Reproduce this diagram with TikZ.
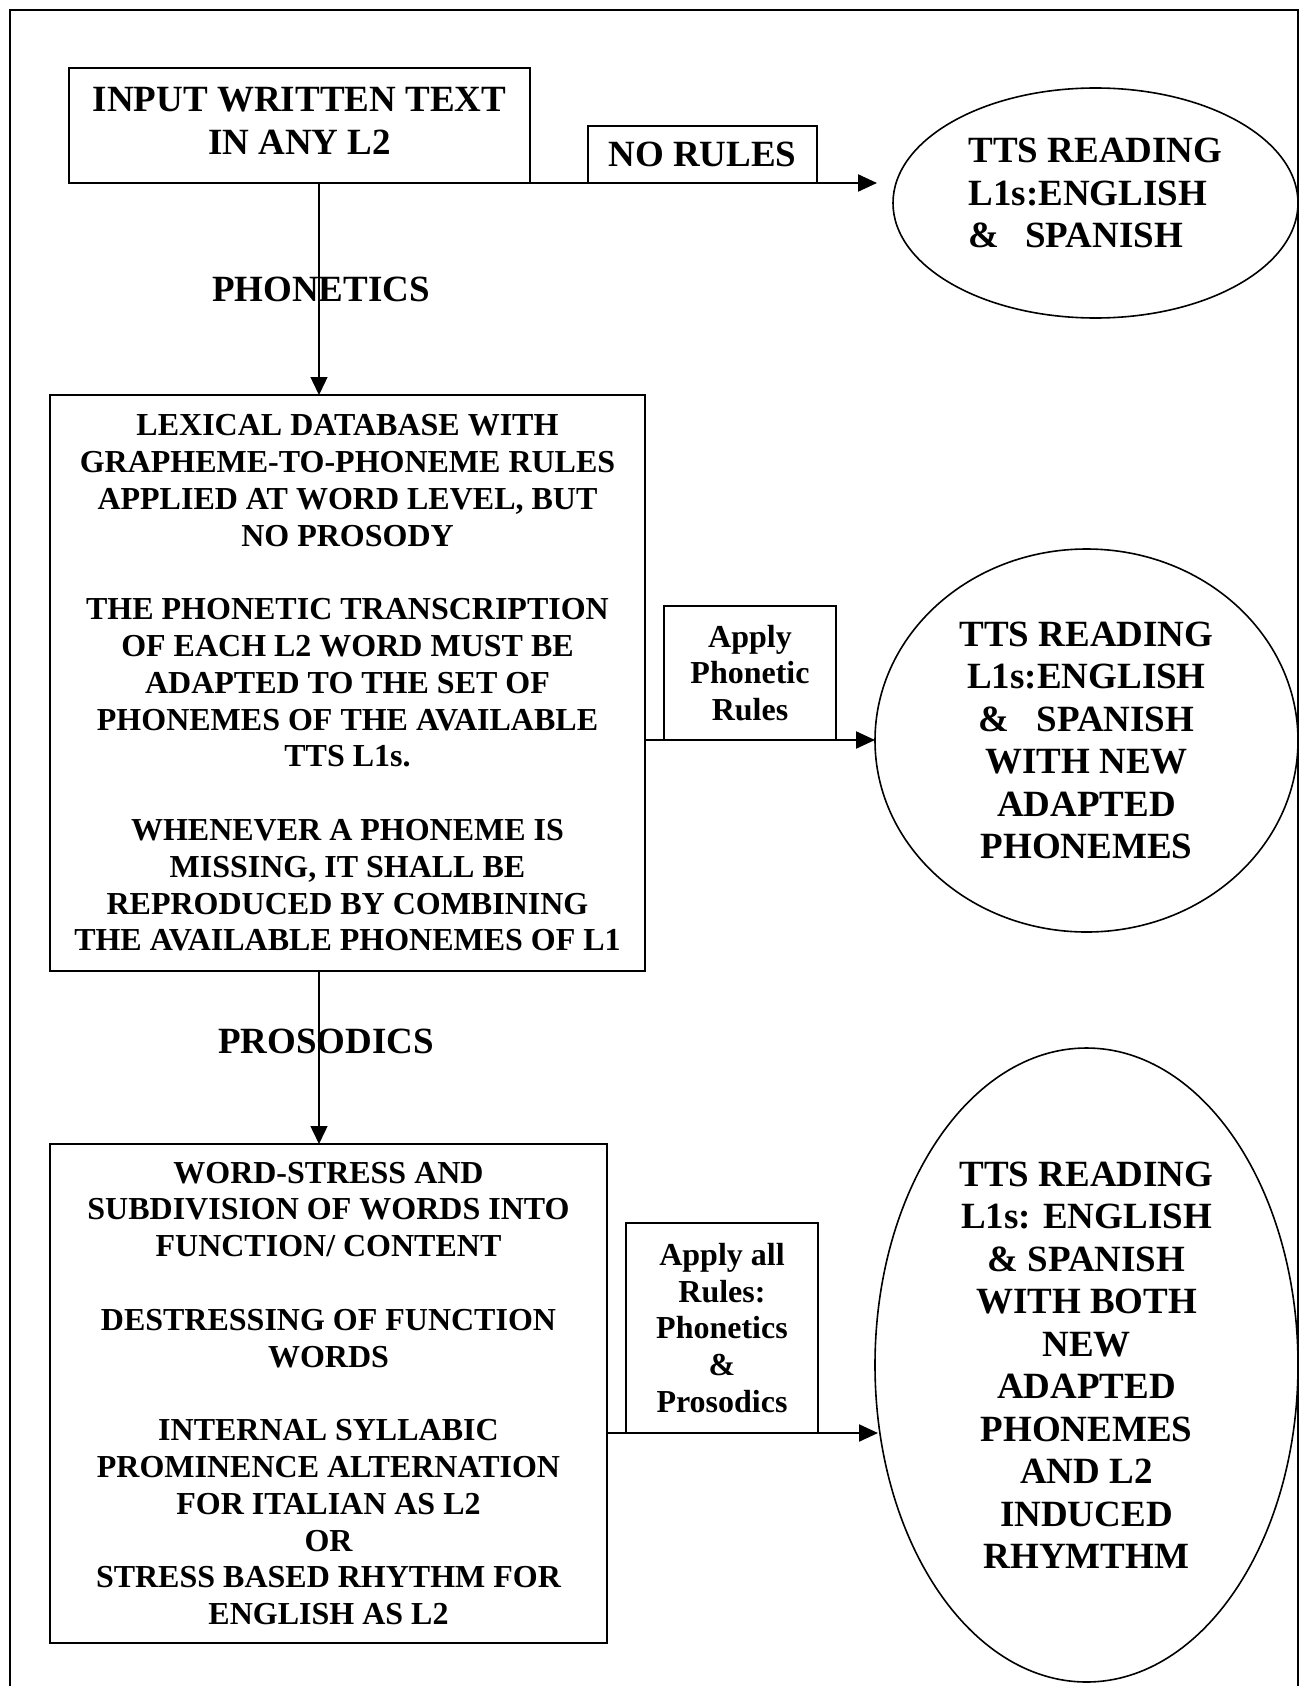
\documentclass[tikz,border=0pt]{standalone}
\usepackage{fontspec}
\setmainfont{Liberation Serif}
\usetikzlibrary{arrows.meta,shapes.geometric,calc}
\begin{document}
\begin{tikzpicture}[x=1pt,y=-1pt,
  box/.style={draw,line width=1.8pt,rectangle,inner sep=0pt,outer sep=0pt,align=center},
  big/.style={font=\fontsize{37}{42.5}\selectfont\bfseries},
  small/.style={font=\fontsize{32}{36.8}\selectfont\bfseries},
  oval/.style={draw,line width=1.6pt,ellipse,inner sep=0pt,outer sep=0pt},
  harrow/.style={line width=2.2pt,-{Triangle[length=19pt,width=17pt]}},
  varrow/.style={line width=1.4pt,-{Triangle[length=18pt,width=17pt]}},
  lbl/.style={big,inner sep=0pt}]
\useasboundingbox (0,0) rectangle (1309,1686);
\draw[line width=1.5pt] (10,1700) -- (10,10) -- (1298,10) -- (1298,1700);

% top row
\node[box,minimum width=461pt,minimum height=115pt] (inbox) at (299.5,125.5) {};
\node[big,align=center,inner sep=0pt] (inboxt) at (299.5,121) {INPUT WRITTEN TEXT\\IN ANY L2};
\node[box,big,minimum width=229pt,minimum height=57pt] (rules1) at (702.5,154.5) {NO RULES};
\node[oval,minimum width=405pt,minimum height=230pt] (ell1) at (1095.5,203) {};
\node[big,align=left,inner sep=0pt] (ell1t) at (1095.5,193)
  {TTS READING\\L1s:ENGLISH\\\&\hspace{26pt}SPANISH};
\coordinate (tip1) at (877,183);
\coordinate (xl) at (319,0);

\node[lbl] (phon) at (321,289) {PHONETICS};

% middle row
\node[box,small,minimum width=595pt,minimum height=576pt] (lex) at (347.5,683)
  {LEXICAL DATABASE WITH\\GRAPHEME-TO-PHONEME RULES\\APPLIED AT WORD LEVEL, BUT\\NO PROSODY\\[36.8pt]
   THE PHONETIC TRANSCRIPTION\\OF EACH L2 WORD MUST BE\\ADAPTED TO THE SET OF\\PHONEMES OF THE AVAILABLE\\TTS L1s.\\[36.8pt]
   WHENEVER A PHONEME IS\\MISSING, IT SHALL BE\\REPRODUCED BY COMBINING\\THE AVAILABLE PHONEMES OF L1};
\node[box,small,minimum width=172pt,minimum height=134pt] (rules2) at (750,673)
  {Apply\\Phonetic\\Rules};
\node[oval,big,align=center,minimum width=423pt,minimum height=383pt] (ell2) at (1086.5,740.5)
  {TTS READING\\L1s:ENGLISH\\\&\hspace{27pt}SPANISH\\WITH NEW\\ADAPTED\\PHONEMES};

\node[lbl] (pros) at (326,1041) {PROSODICS};

% bottom row
\node[box,small,minimum width=557pt,minimum height=499pt] (box3) at (328.5,1393.5)
  {WORD-STRESS AND\\SUBDIVISION OF WORDS INTO\\FUNCTION/ CONTENT\\[36.8pt]
   DESTRESSING OF FUNCTION\\WORDS\\[36.8pt]
   INTERNAL SYLLABIC\\PROMINENCE ALTERNATION\\FOR ITALIAN AS L2\\OR\\STRESS BASED RHYTHM FOR\\ENGLISH AS L2};
\node[box,small,minimum width=192pt,minimum height=210pt] (rules3) at (722,1328)
  {Apply all\\Rules:\\Phonetics\\\&\\Prosodics};
\node[oval,big,align=center,minimum width=423pt,minimum height=634pt] (ell3) at (1086.5,1365)
  {TTS READING\\L1s: ENGLISH\\\& SPANISH\\WITH BOTH\\NEW\\ADAPTED\\PHONEMES\\AND L2\\INDUCED\\RHYMTHM};
\coordinate (tip3) at (878,1433);

% connectors
\draw[harrow] (inbox.south east) -- (tip1);
\draw[varrow] (inbox.south -| xl) -- (lex.north -| xl);
\draw[harrow] (lex.east |- rules2.south) -- (ell2.west |- rules2.south);
\draw[varrow] (lex.south -| xl) -- (box3.north -| xl);
\draw[harrow] (box3.east |- rules3.south) -- (tip3);
\end{tikzpicture}
\end{document}
